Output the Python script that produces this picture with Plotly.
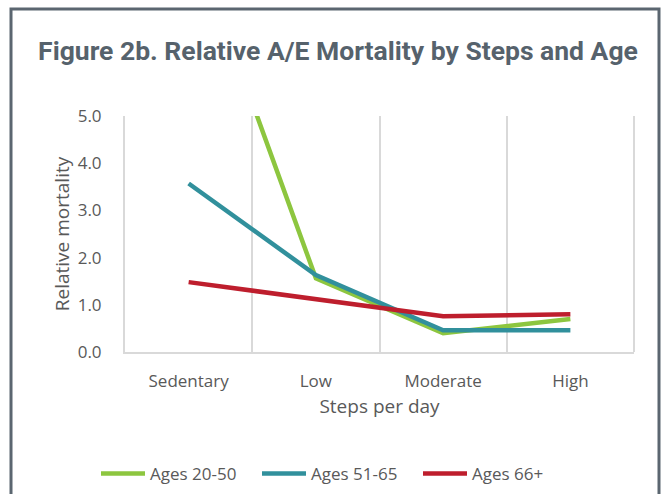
import plotly.graph_objects as go

categories = ["Sedentary", "Low", "Moderate", "High"]
ages_20_50 = [9.0, 1.56, 0.40, 0.70]
ages_51_65 = [3.57, 1.63, 0.46, 0.46]
ages_66_plus = [1.48, 1.13, 0.76, 0.80]
series_names = ["Ages 20-50", "Ages 51-65", "Ages 66+"]
colors = ["#8dc63f", "#31909c", "#be1e2d"]

W, H = 670, 494
L, R, T, B = 125, 36, 116, 142
pw, ph = W - L - R, H - T - B

def px(x):
    return (x - L) / pw

def py(y):
    return (H - B - y) / ph

fig = go.Figure()
for name, vals, c in zip(series_names, [ages_20_50, ages_51_65, ages_66_plus], colors):
    fig.add_trace(go.Scatter(x=categories, y=vals, name=name, mode="lines",
                             line=dict(color=c, width=4.5)))

FONT = "Open Sans, Lato, sans-serif"
tick_font = dict(family=FONT, size=17, color="#595959")

fig.update_layout(
    width=W, height=H,
    margin=dict(l=L, r=R, t=T, b=B, autoexpand=False),
    paper_bgcolor="white", plot_bgcolor="white",
    title=dict(text="<b>Figure 2b. Relative A/E Mortality by Steps and Age</b>",
               x=(338) / W, xanchor="center", y=1 - 51 / H, yanchor="middle",
               font=dict(family="Roboto, sans-serif", size=26.5, color="#56626c")),
    xaxis=dict(type="category", tickson="boundaries", showgrid=True, gridcolor="#d9d9d9",
               gridwidth=2, showline=True, linecolor="#d9d9d9", linewidth=2,
               ticks="", tickfont=tick_font, ticklabelstandoff=13,
               title=dict(text="Steps per day", font=dict(family=FONT, size=19, color="#595959"),
                          standoff=8),
               range=[-0.5, 3.5], mirror=False),
    yaxis=dict(range=[0, 5], dtick=1, tickformat=".1f", showgrid=False, zeroline=False,
               showline=True, linecolor="#d9d9d9", linewidth=2, ticks="",
               tickfont=tick_font, ticklabelstandoff=18,
               title=dict(text="Relative mortality", font=dict(family=FONT, size=19, color="#595959"),
                          standoff=3)),
    legend=dict(orientation="h", x=px(96), xanchor="left", y=py(474), yanchor="middle",
                font=dict(family=FONT, size=17, color="#595959"),
                itemwidth=44, tracegroupgap=0, entrywidth=102, entrywidthmode="pixels"),
    showlegend=True,
)

# right boundary gridline
fig.add_shape(type="line", xref="paper", yref="paper", x0=1, x1=1, y0=0, y1=1,
              line=dict(color="#d9d9d9", width=2))
# outer frame
fig.add_shape(type="rect", xref="paper", yref="paper",
              x0=px(11), x1=px(659), y0=py(520), y1=py(9),
              line=dict(color="#5b6670", width=3), fillcolor="rgba(0,0,0,0)", layer="below")

fig.write_html("out.html", config={"displayModeBar": False},
               post_script="document.body.style.margin='0';document.body.style.overflow='hidden';")
